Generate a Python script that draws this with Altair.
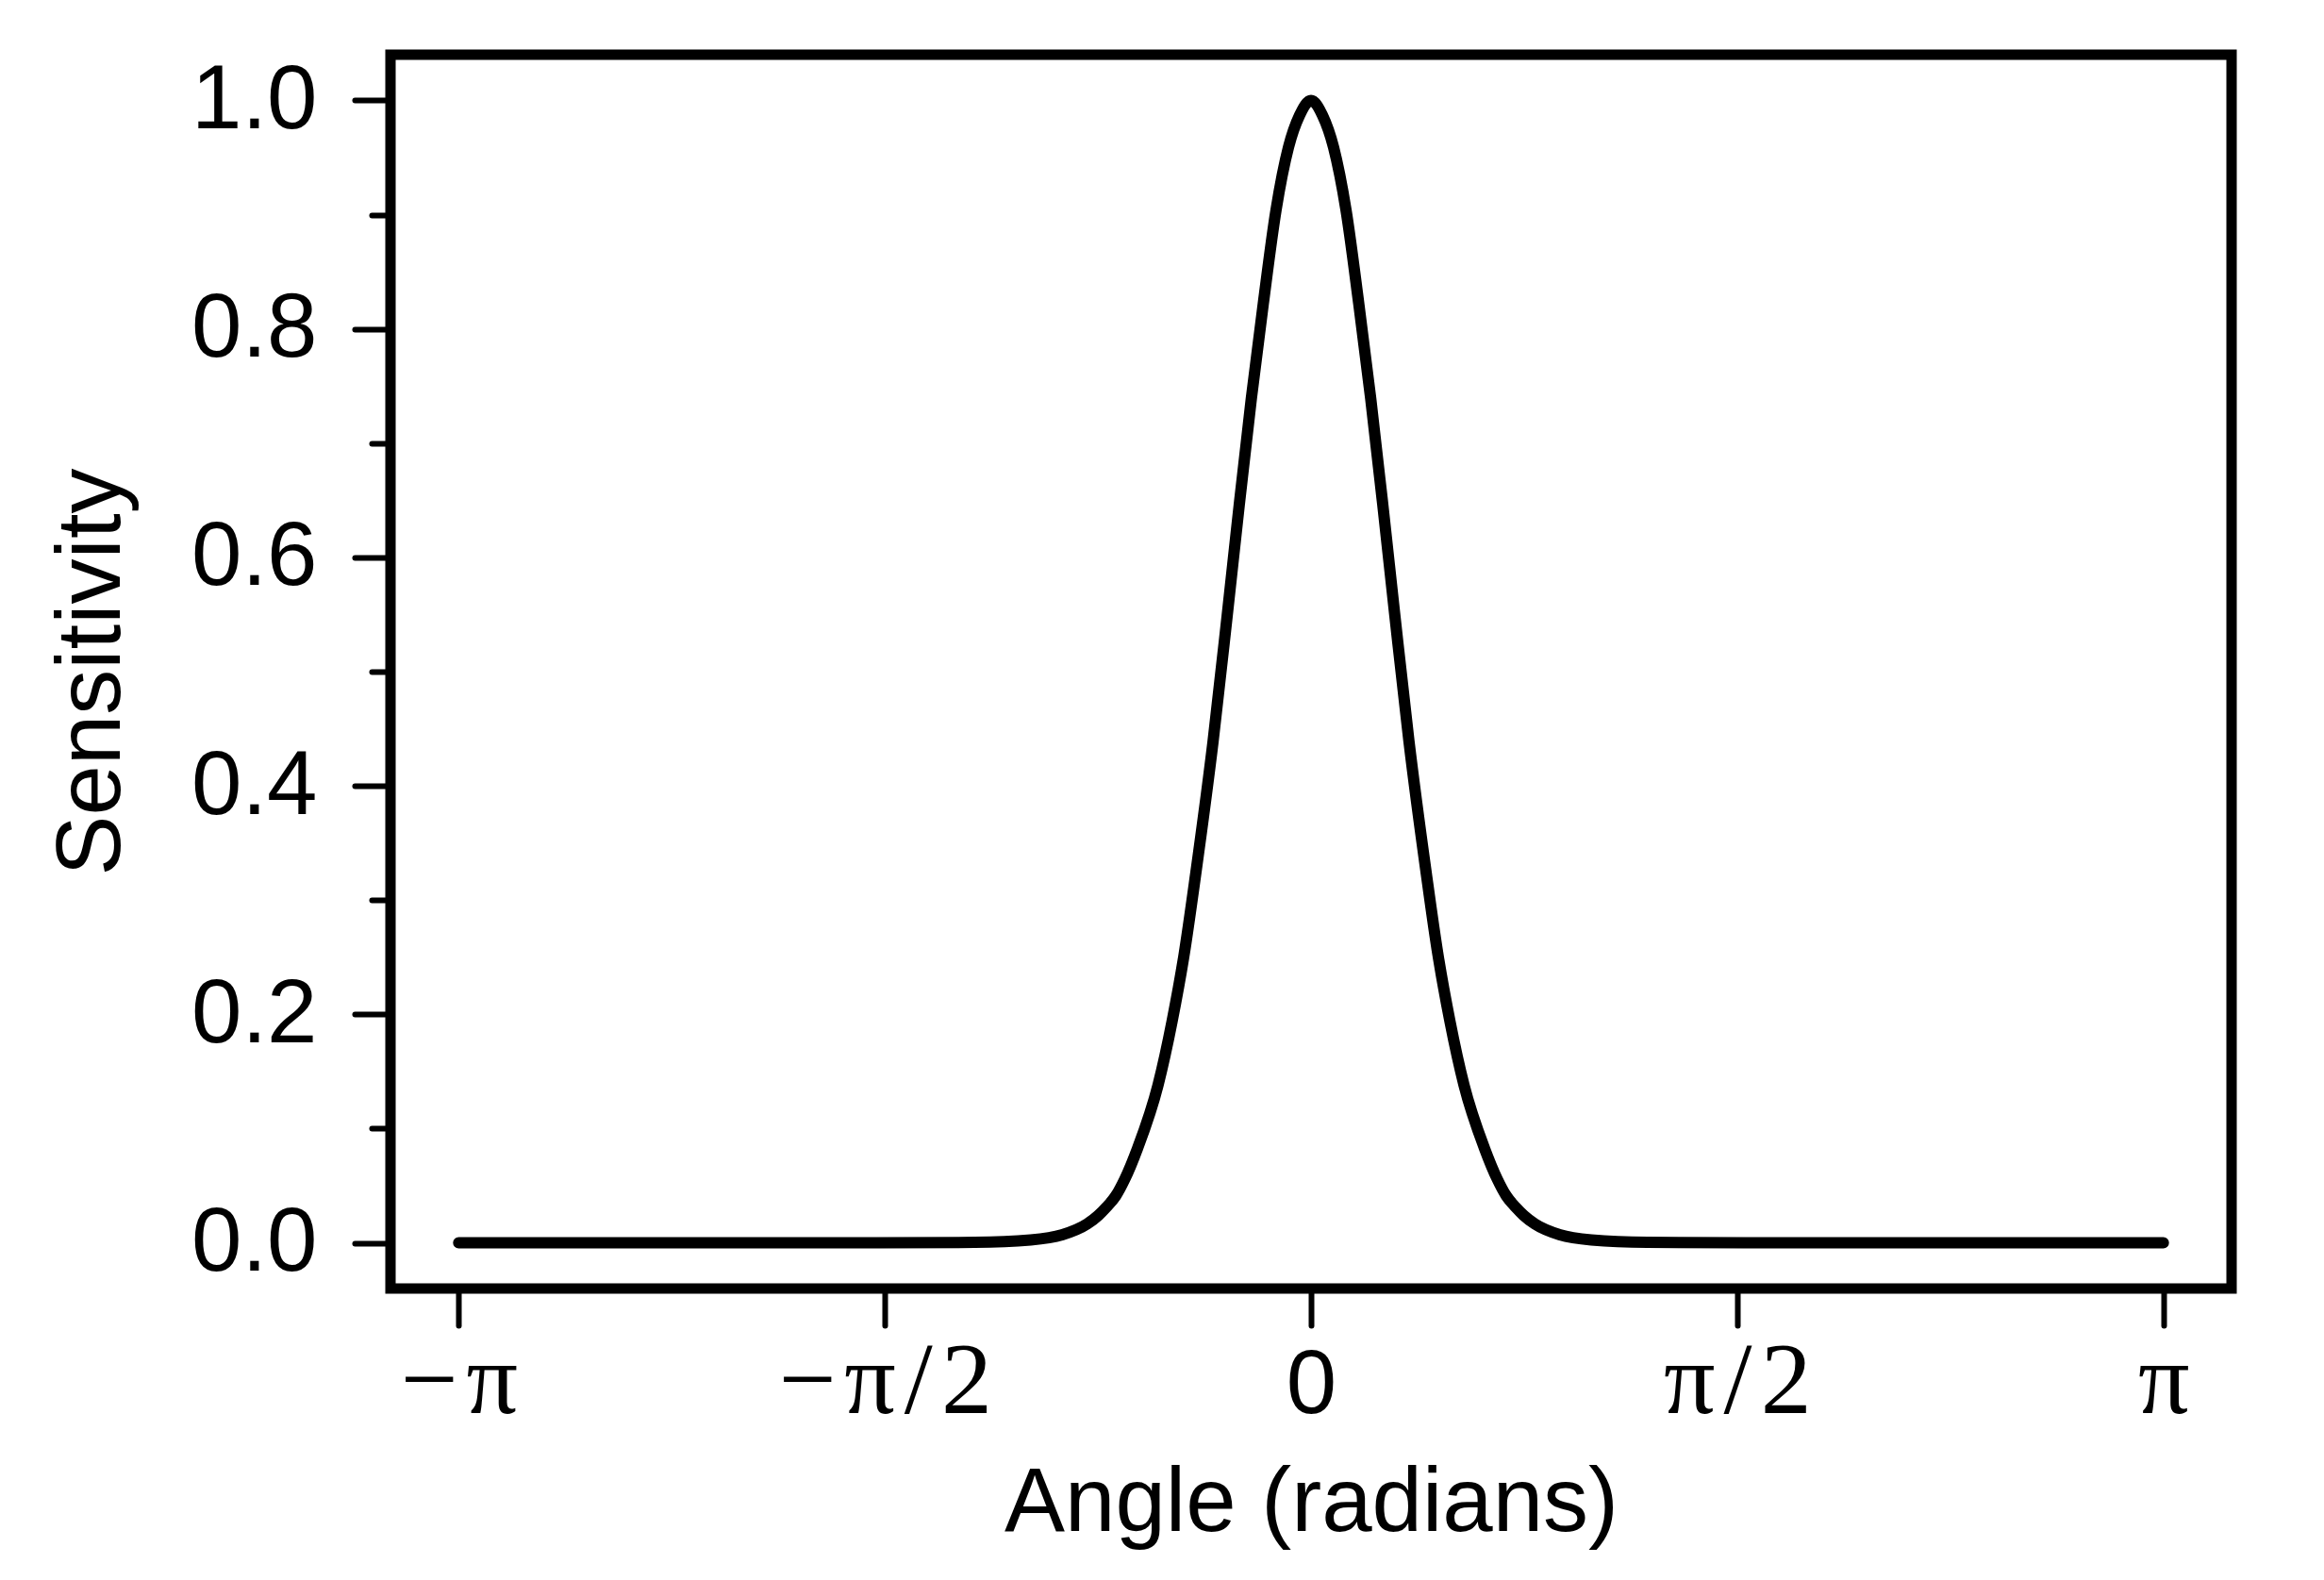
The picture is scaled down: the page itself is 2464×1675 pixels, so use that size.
import math
import altair as alt
import pandas as pd

# Curve (angle in radians, sensitivity)
angle = [
    -math.pi, -1.60, -1.24, -1.033, -0.917, -0.825, -0.784, -0.755, -0.720,
    -0.686, -0.639, -0.564, -0.512, -0.468, -0.425, -0.361, -0.309, -0.265,
    -0.220, -0.176, -0.129, -0.083, -0.042,
    0.0,
    0.042, 0.083, 0.129, 0.176, 0.220, 0.265, 0.309, 0.361, 0.425, 0.468,
    0.512, 0.564, 0.639, 0.686, 0.720, 0.755, 0.784, 0.825, 0.917, 1.033,
    1.24, 1.60, math.pi,
]
sensitivity = [
    0.0, 0.0, 0.0004, 0.0025, 0.007, 0.0165, 0.024, 0.031, 0.041,
    0.056, 0.083, 0.138, 0.194, 0.252, 0.323, 0.439, 0.549, 0.645,
    0.739, 0.822, 0.904, 0.959, 0.987,
    1.0,
    0.987, 0.959, 0.904, 0.822, 0.739, 0.645, 0.549, 0.439, 0.323, 0.252,
    0.194, 0.138, 0.083, 0.056, 0.041, 0.031, 0.024, 0.0165, 0.007, 0.0025,
    0.0004, 0.0, 0.0,
]

x_tick_values = [-math.pi, -math.pi / 2, 0.0, math.pi / 2, math.pi]
x_tick_labels = ["−\u200aπ", "−\u200aπ\u200a/\u200a2", "0", "π\u200a/\u200a2", "π"]
y_tick_values = [0.0, 0.1, 0.2, 0.3, 0.4, 0.5, 0.6, 0.7, 0.8, 0.9, 1.0]

df = pd.DataFrame({"angle": angle, "sensitivity": sensitivity})

x_label_expr = (
    "[" + ",".join("'" + s + "'" for s in x_tick_labels) + "]"
    "[round(datum.value / (PI / 2)) + 2]"
)
y_label_expr = "round(datum.value * 10) % 2 == 0 ? format(datum.value, '.1f') : ''"

FS = 96
W, H = 1952, 1308

x_axis = alt.Axis(
    values=x_tick_values,
    labelExpr=x_label_expr,
    title="Angle (radians)",
    domain=False,
    grid=False,
    ticks=True,
    tickSize=39,
    tickWidth=6,
    tickColor="black",
    tickCap="round",
    labelFont={"condition": {"test": "abs(datum.value) < 0.5", "value": "Liberation Sans"},
               "value": "Liberation Serif"},
    labelFontSize={"condition": {"test": "abs(datum.value) < 0.5", "value": FS},
                   "value": 108},
    labelColor="black",
    labelBaseline="alphabetic",
    labelAlign="center",
    labelPadding=92,
    labelLimit=0,
    labelFlush=False,
    labelOverlap=False,
    labelBound=False,
    titleFont="Liberation Sans",
    titleFontSize=FS,
    titleFontWeight="normal",
    titleColor="black",
    titleBaseline="alphabetic",
    titleAlign="center",
    titleLimit=0,
    titleX=W / 2,
    titleY=256,
)

y_axis = alt.Axis(
    values=y_tick_values,
    labelExpr=y_label_expr,
    title="Sensitivity",
    domain=False,
    grid=False,
    ticks=True,
    tickSize={"condition": {"test": "round(datum.value * 10) % 2 == 1", "value": 20},
              "value": 38},
    tickWidth=6,
    tickColor="black",
    tickCap="round",
    labelFont="Liberation Sans",
    labelFontSize=FS,
    labelColor="black",
    labelBaseline="middle",
    labelAlign="right",
    labelPadding=40,
    labelLimit=0,
    labelFlush=False,
    labelOverlap=False,
    labelBound=False,
    titleFont="Liberation Sans",
    titleFontSize=FS,
    titleFontWeight="normal",
    titleColor="black",
    titleAngle=270,
    titleBaseline="alphabetic",
    titleAlign="center",
    titleLimit=0,
    titleX=-288,
    titleY=H / 2,
)

chart = (
    alt.Chart(df)
    .mark_line(color="black", strokeWidth=12, strokeCap="round", strokeJoin="round",
               interpolate="monotone")
    .encode(
        x=alt.X("angle:Q", scale=alt.Scale(domain=[-math.pi * 1.08, math.pi * 1.08],
                                           nice=False, zero=False), axis=x_axis),
        y=alt.Y("sensitivity:Q", scale=alt.Scale(domain=[-0.04, 1.04], nice=False, zero=False),
                axis=y_axis),
    )
    .properties(
        width=W,
        height=H,
        padding={"left": 406, "top": 50, "right": 90, "bottom": 290},
        autosize=alt.AutoSizeParams(type="none"),
        background="white",
    )
    .configure_view(stroke="black", strokeWidth=11)
)

chart.save("out.html", embed_options={"renderer": "svg", "actions": False})
